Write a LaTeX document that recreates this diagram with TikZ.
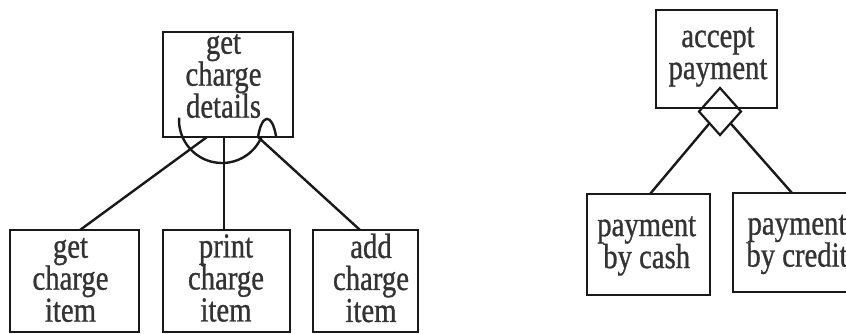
\documentclass[tikz,border=0pt]{standalone}
\usepackage{fontspec}
\setmainfont{Liberation Serif}[FakeStretch=0.82, FakeBold=0.8]
\usetikzlibrary{shapes.geometric}
\begin{document}
\lineskiplimit=-100pt
\begin{tikzpicture}[x=1pt,y=1pt,
  box/.style 2 args={draw=black!90, line width=2.2pt, minimum width=#1, minimum height=#2, inner sep=0pt, outer sep=0pt},
  caption/.style={font=\fontsize{35}{32}\selectfont, align=center, inner sep=0pt, text=black!80},
  link/.style={draw=black!90, line width=2.4pt},
  choice/.style={draw=black!90, line width=2.2pt, shape=diamond, minimum width=42pt, minimum height=47pt, inner sep=0pt, outer sep=0pt}]
\clip (0,0) rectangle (846,-334);

% left tree: boxes
\node[box={130}{105}] (gcdbox) at (228,-84.5) {};
\node[box={129}{102}] (gcibox) at (74.5,-281) {};
\node[box={127}{102}] (pcibox) at (226.5,-281) {};
\node[box={105}{102}] (acibox) at (365.5,-281) {};

% left tree: captions
\node[caption] (gcdtxt) at (223.5,-76) {get\\charge\\details};
\node[caption] (gcitxt) at (70.5,-280) {get\\charge\\item};
\node[caption] (pcitxt) at (226,-278) {print\\charge\\item};
\node[caption] (acitxt) at (371,-278) {add\\charge\\item};

% left tree: connectors
\draw[link] ([xshift=5.5pt]gcibox.north) -- ([xshift=-21pt]gcdbox.south);
\draw[link] ([xshift=-2.5pt]pcibox.north) -- ([xshift=-4pt]gcdbox.south);
\draw[link] ([xshift=-5.5pt]acibox.north) -- ([xshift=30pt]gcdbox.south);

% iteration arc and hook under the parent box
\coordinate (hub) at (222,-120);
\draw[link] (hub) ++(177:43) arc[start angle=177, end angle=336, radius=43];
\coordinate (hookL) at (258,-137);
\coordinate (hookR) at (276,-136);
\draw[link] (hookL) .. controls (262,-113) and (272,-113) .. (hookR);

% right tree: boxes
\node[box={121}{98}] (apbox) at (716.5,-59) {};
\node[box={123}{101}] (pbcbox) at (648.5,-244.5) {};
\node[box={124}{99}] (pbcrbox) at (795,-242.5) {};

% right tree: captions
\node[caption] (aptxt) at (718,-57) {accept\\payment};
\node[caption] (pbctxt) at (646.7,-246) {payment\\by cash};
\node[caption] (pbcrtxt) at (797,-244.5) {payment\\by credit};

% selection diamond and its connectors
\node[choice] (sel) at (720,-111.5) {};
\draw[link] ([xshift=1.5pt]pbcbox.north) -- (sel.south west);
\draw[link] ([xshift=-3pt]pbcrbox.north) -- (sel.south east);
\end{tikzpicture}
\end{document}
